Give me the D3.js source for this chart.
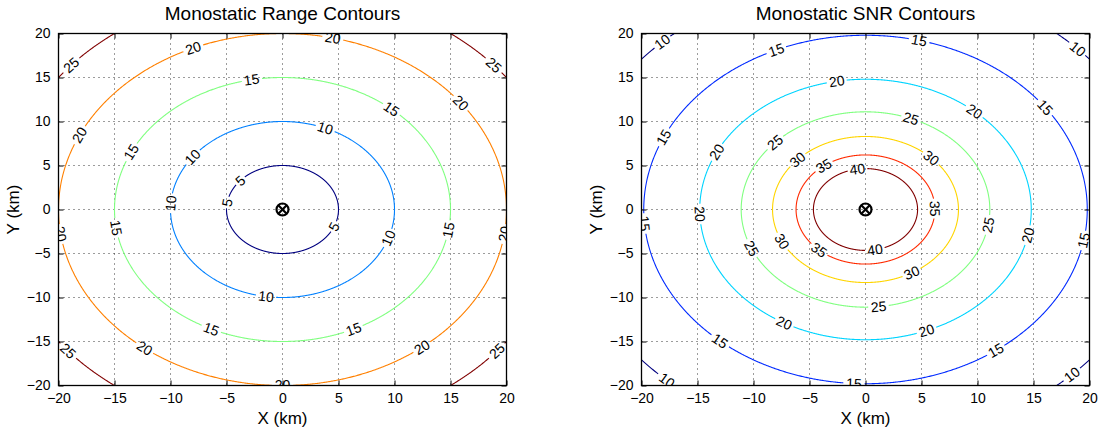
<!DOCTYPE html>
<html>
<head>
<meta charset="utf-8">
<script src="https://cdn.jsdelivr.net/npm/d3@7"></script>
<style>
  body { margin: 0; background: #fff; }
  svg text { font-family: "Liberation Sans", Arial, Helvetica, sans-serif; fill: #000; }
</style>
</head>
<body>
<svg id="chart" width="1110" height="430"></svg>
<script>
const axisTicks = [-20, -15, -10, -5, 0, 5, 10, 15, 20];

// range contours: level (km) and radius (km)
const rangeLevels = [5, 10, 15, 20, 25];
const rangeRadii = [5, 10, 15, 20, 25];

// SNR contours: level (dB) and radius (km)
const snrLevels = [10, 15, 20, 25, 30, 35, 40];
const snrRadii = [26.3, 19.8, 14.8, 11.1, 8.3, 6.2, 4.65];

// where the inline labels sit on each contour (degrees, ccw from +x)
const rangeLabelAngles = [
    [139, 171, 337],
    [67.6, 143.4, 176, 341, 261.5],
    [100.6, 49.6, 154.2, 351, 188, 244.9, 295],
    [77, 113.5, 37.3, 155, 352, 188, 232, 308.5, 270],
    [139, 41, 220, 320]
];
const snrLabelAngles = [
    [133.6, 43.9, 227.6, 314.5],
    [76, 113.7, 35.9, 155.5, 184.6, 349.8, 229, 306, 267],
    [100, 48.9, 153.8, 182, 348.6, 240.6, 291.6],
    [68.6, 136.7, 203.5, 350.8, 276],
    [137, 45, 206, 299.8],
    [127, 1, 228],
    [99, 280.5]
];

const w = 448;
const h = 352;

// matlab jet colormap
function jet(t) {
    const c = (v) => Math.max(0, Math.min(1, v));
    const r = c(Math.min(4 * t - 1.5, -4 * t + 4.5));
    const g = c(Math.min(4 * t - 0.5, -4 * t + 3.5));
    const b = c(Math.min(4 * t + 0.5, -4 * t + 2.5));
    return d3.rgb(r * 255, g * 255, b * 255).formatHex();
}

function drawPanel(svg, left, top, title, levels, radii, labelAngles, id) {
    const x = d3.scaleLinear().domain([-20, 20]).range([0, w]);
    const y = d3.scaleLinear().domain([-20, 20]).range([h, 0]);
    const g = svg.append("g").attr("transform", `translate(${left + 0.5},${top + 0.5})`);

    g.append("clipPath").attr("id", id)
        .append("rect").attr("width", w).attr("height", h);

    // dotted grid
    const grid = g.append("g");
    grid.selectAll(".gx").data(axisTicks.slice(1, -1)).enter().append("line")
        .attr("x1", d => x(d)).attr("x2", d => x(d))
        .attr("y1", 0).attr("y2", h)
        .attr("stroke", "#222").attr("stroke-width", 0.9).attr("stroke-dasharray", "1,4");
    grid.selectAll(".gy").data(axisTicks.slice(1, -1)).enter().append("line")
        .attr("y1", d => y(d)).attr("y2", d => y(d))
        .attr("x1", 0).attr("x2", w)
        .attr("stroke", "#222").attr("stroke-width", 0.9).attr("stroke-dasharray", "1,4");

    const plot = g.append("g").attr("clip-path", `url(#${id})`);
    const color = d3.scaleLinear().domain([0, levels.length - 1]).range([0, 1]);

    levels.forEach((lev, i) => {
        const r = radii[i];
        const rx = x(r) - x(0), ry = y(0) - y(r);
        // labels first so the gaps can be sized from the text
        const labs = labelAngles[i].map(a => {
            const t = a * Math.PI / 180;
            const px = x(r * Math.cos(t)), py = y(r * Math.sin(t));
            let rot = Math.atan2(-ry * Math.cos(t), -rx * Math.sin(t)) * 180 / Math.PI;
            if (rot > 90) rot -= 180;
            if (rot <= -90) rot += 180;
            const txt = plot.append("text")
                .attr("transform", `translate(${px},${py}) rotate(${rot})`)
                .attr("text-anchor", "middle")
                .attr("dy", "0.35em")
                .attr("font-size", 14)
                .text(lev);
            return { px, py, half: txt.node().getComputedTextLength() / 2 + 2 };
        });

        const pts = d3.range(0, 360.25, 0.25).map(a => {
            const t = a * Math.PI / 180;
            return [x(r * Math.cos(t)), y(r * Math.sin(t))];
        });
        const line = d3.line()
            .defined(p => labs.every(l => Math.hypot(p[0] - l.px, p[1] - l.py) > l.half));
        plot.insert("path", "text")
            .attr("d", line(pts))
            .attr("fill", "none")
            .attr("stroke", jet(color(i)))
            .attr("stroke-width", 1.1);
    });

    // radar marker at origin
    const m = g.append("g").attr("transform", `translate(${x(0)},${y(0)})`)
        .attr("stroke", "#000").attr("stroke-width", 2.2).attr("fill", "none");
    m.append("circle").attr("r", 6);
    m.append("line").attr("x1", -4.2).attr("y1", -4.2).attr("x2", 4.2).attr("y2", 4.2);
    m.append("line").attr("x1", -4.2).attr("y1", 4.2).attr("x2", 4.2).attr("y2", -4.2);

    // axes with inward ticks on all four sides
    const ax = (axis) => axis.tickValues(axisTicks).tickSizeInner(-5).tickSizeOuter(0).tickPadding(8)
        .tickFormat(d3.format("d"));
    const xb = g.append("g").attr("transform", `translate(0,${h})`).call(ax(d3.axisBottom(x)));
    const yl = g.append("g").call(ax(d3.axisLeft(y)));
    const xt = g.append("g").call(ax(d3.axisTop(x)).tickFormat(""));
    const yr = g.append("g").attr("transform", `translate(${w},0)`).call(ax(d3.axisRight(y)).tickFormat(""));
    [xb, yl, xt, yr].forEach(a => {
        a.select(".domain").remove();
        a.selectAll("text").attr("font-size", 14).attr("font-family", null);
    });
    g.append("rect").attr("width", w).attr("height", h)
        .attr("fill", "none").attr("stroke", "#000").attr("stroke-width", 1.3);

    g.append("text").attr("x", w / 2).attr("y", -14)
        .attr("text-anchor", "middle").attr("font-size", 19).text(title);
    g.append("text").attr("x", w / 2).attr("y", h + 38)
        .attr("text-anchor", "middle").attr("font-size", 17).text("X (km)");
    g.append("text").attr("transform", `translate(-40,${h / 2}) rotate(-90)`)
        .attr("text-anchor", "middle").attr("font-size", 17).text("Y (km)");
}

const svg = d3.select("#chart");
drawPanel(svg, 58, 33, "Monostatic Range Contours", rangeLevels, rangeRadii, rangeLabelAngles, "clipL");
drawPanel(svg, 641, 33, "Monostatic SNR Contours", snrLevels, snrRadii, snrLabelAngles, "clipR");
</script>
</body>
</html>
